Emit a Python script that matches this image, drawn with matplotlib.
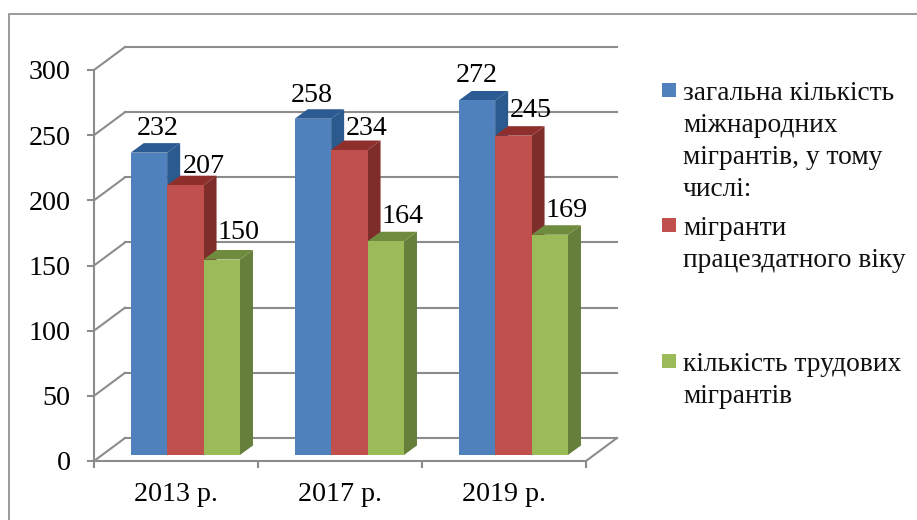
#!/usr/bin/env python3
"""Міжнародні мігранти: псевдо-3D стовпчики в стилі Excel."""
import matplotlib

matplotlib.use("Agg")
import matplotlib.pyplot as plt
from matplotlib.lines import Line2D
from matplotlib.patches import Polygon, Rectangle
from matplotlib.transforms import Affine2D

W, H = 917, 520

years = ["2013 р.", "2017 р.", "2019 р."]
total = [232, 258, 272]
working_age = [207, 234, 245]
labour = [150, 164, 169]
y_ticks = [0, 50, 100, 150, 200, 250, 300]

legend_lines = [
    ["загальна кількість", "міжнародних", "мігрантів, у тому", "числі:"],
    ["мігранти", "працездатного віку"],
    ["кількість трудових", "мігрантів"],
]

# (front, top, side)
face_colors = [
    ("#4F81BD", "#2C5A92", "#2B5A8E"),
    ("#C0504D", "#8E2F2C", "#7F2D2B"),
    ("#9BBB59", "#6F8B3E", "#667F3A"),
]
# зсув підпису відносно лівого верхнього кута стовпчика, px
label_offsets = [
    [(27, 18), (37, 12), (35, 20)],
    [(17, 17), (36, 15), (35, 18)],
    [(18, 18), (36, 19), (35, 18)],
]

AX_L, AX_R, AX_T, AX_B = 94, 586, 70, 461
WALL_DX, WALL_DY = 31, 23  # глибина задньої стінки
BAR_DX, BAR_DY = 13, 9.5  # глибина стовпчика
FLOOR_DY = 6
BAR_START = 0.224
BAR_W = 0.222
GRID = "#8C8C8C"

plt.rcParams["font.family"] = ["Liberation Serif", "DejaVu Serif"]
FS = 20.2  # цифри
FS_LEG = 19.8

fig = plt.figure(figsize=(W / 100, H / 100), dpi=100)
px = Affine2D().scale(1 / W, -1 / H).translate(0, 1) + fig.transFigure
ax = fig.add_axes([AX_L / W, 1 - AX_B / H, (AX_R - AX_L) / W, (AX_B - AX_T) / H])
ax.set_xlim(0, 3)
ax.set_ylim(0, 300)
ax.patch.set_visible(False)

ux = (AX_R - AX_L) / 3  # px на категорію
uy = (AX_B - AX_T) / 300  # px на одиницю

# рамка видна лише зверху і зліва
fig.add_artist(Line2D([8.5, 8.5, W], [H, 13.5, 13.5], transform=px, color="#9A9A9A", lw=1.4))

# стінки і підлога
for v in y_ticks:
    yb = v + WALL_DY / uy
    ax.plot([0, WALL_DX / ux], [v, yb], color=GRID, lw=1.5, clip_on=False, zorder=1)
    ax.plot([WALL_DX / ux, 3 + WALL_DX / ux], [yb, yb], color=GRID, lw=1.5, clip_on=False, zorder=1)
ax.plot([3, 3 + WALL_DX / ux], [0, WALL_DY / uy], color=GRID, lw=1.5, clip_on=False, zorder=1)

# стовпчики
z = 2
for s, values in enumerate([total, working_age, labour]):
    front, top, side = face_colors[s]
    for i, v in enumerate(values):
        x0 = i + BAR_START + s * BAR_W
        x1 = x0 + BAR_W
        y0 = FLOOR_DY / uy
        y1 = y0 + v
        dx, dy = BAR_DX / ux, BAR_DY / uy
        ax.add_patch(Polygon([(x1, y0), (x1 + dx, y0 + dy), (x1 + dx, y1 + dy), (x1, y1)],
                             fc=side, ec="none", clip_on=False, zorder=z))
        ax.add_patch(Polygon([(x0, y1), (x0 + dx, y1 + dy), (x1 + dx, y1 + dy), (x1, y1)],
                             fc=top, ec="none", clip_on=False, zorder=z))
        ax.bar(x0, v, width=BAR_W, bottom=y0, align="edge", color=front, clip_on=False, zorder=z)
        ox, oy = label_offsets[i][s]
        ax.text(x0 + ox / ux, y1 + oy / uy, str(v), ha="center", va="baseline",
                fontsize=FS, color="black", zorder=20, clip_on=False)
    z += 1

# осі
for name in ("top", "right"):
    ax.spines[name].set_visible(False)
for name in ("left", "bottom"):
    ax.spines[name].set_color(GRID)
    ax.spines[name].set_linewidth(1.5)
ax.set_yticks(y_ticks)
ax.set_yticklabels([str(v) for v in y_ticks], fontsize=FS)
ax.set_xticks(range(4))
ax.set_xticklabels([])
ax.set_xticks([i + 0.5 for i in range(3)], minor=True)
ax.set_xticklabels(years, minor=True, fontsize=FS)
ax.tick_params(axis="x", which="minor", length=0, pad=15)
ax.tick_params(axis="both", which="major", color=GRID, width=1.5, length=5)
ax.tick_params(axis="y", pad=12)

# легенда
LEG_Y = [(83, 100), (218, 235), (354, 371)]
for s, lines in enumerate(legend_lines):
    box_top, first_base = LEG_Y[s]
    fig.add_artist(Rectangle((662, box_top), 14, 14, transform=px, fc=face_colors[s][0], ec="none"))
    for k, line in enumerate(lines):
        fig.text(683, first_base + k * 32, line, transform=px, fontsize=FS_LEG,
                 ha="left", va="baseline", color="#111111")

fig.savefig("out.png", dpi=100)
